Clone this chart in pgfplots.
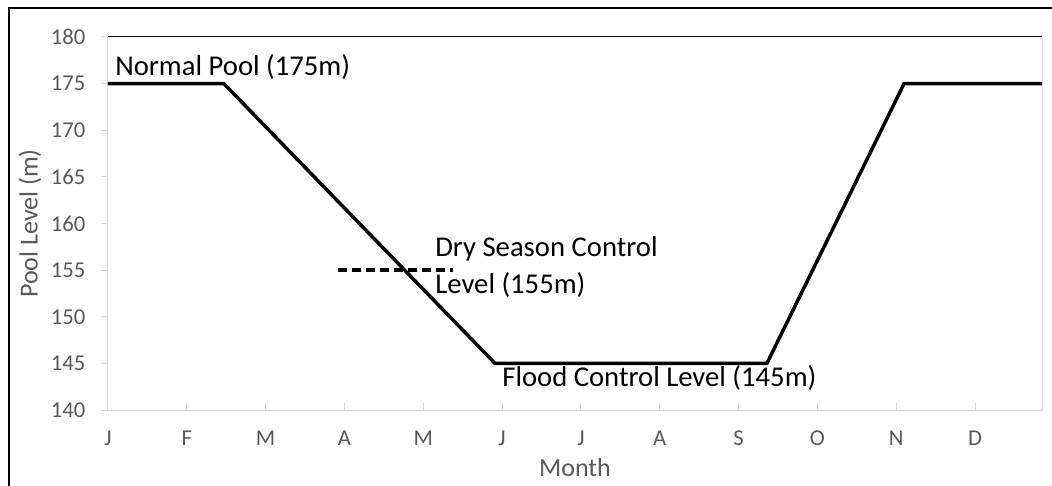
\documentclass[border=0pt]{standalone}
\usepackage{fontspec}
\setmainfont{Carlito}
\usepackage{pgfplots}
\pgfplotsset{compat=1.18}
\definecolor{tickgray}{HTML}{595959}
\definecolor{axgray}{HTML}{D9D9D9}
\begin{document}
\begin{tikzpicture}[x=1pt,y=1pt]
\useasboundingbox (-81,-56.25) rectangle (708,307.5);
\draw[line width=1.5pt] (-74.25,-60) -- (-74.25,301.5) -- (712,301.5);
\begin{axis}[
  at={(0,0)}, anchor=south west,
  scale only axis, width=700.5pt, height=279.75pt,
  xmin=0, xmax=11.85, ymin=140, ymax=180,
  xtick={0,1,...,11}, xticklabels={J,F,M,A,M,J,J,A,S,O,N,D},
  ytick={140,145,...,180},
  axis x line*=bottom, axis y line*=left,
  axis line style={axgray, line width=0.75pt, -},
  xtick align=inside, ytick align=outside,
  major tick length=5.5pt,
  tick style={axgray, line width=0.75pt},
  /pgf/number format/assume math mode=true,
  ticklabel style={text=tickgray, font=\fontsize{17}{20}\selectfont},
  xticklabel style={yshift=-12pt},
  yticklabel style={xshift=-8pt},
  xlabel={Month}, ylabel={Pool Level (m)},
  xlabel style={at={(axis description cs:0.5,-0.155)}, anchor=center, text=tickgray, font=\fontsize{19.5}{23}\selectfont},
  ylabel style={at={(axis description cs:-0.0835,0.5)}, anchor=center, text=tickgray, font=\fontsize{19.5}{23}\selectfont},
]
\draw[black, line width=0.75pt] (rel axis cs:0,1) -- (rel axis cs:1,1) -- (rel axis cs:1,0);
\addplot[black, line width=2.6pt] coordinates {(0,175) (1.47,175) (4.91,145) (8.36,145) (10.1,175) (11.85,175)};
\addplot[black, line width=2.6pt, dash pattern=on 7pt off 3.5pt] coordinates {(2.92,155) (4.38,155)};
\node[anchor=base west, inner sep=0, font=\fontsize{21.5}{26}\selectfont] at (axis cs:0.09,175.9) {Normal Pool (175m)};
\node[anchor=base west, inner sep=0, font=\fontsize{21.5}{26}\selectfont] at (axis cs:4.15,156.44) {Dry Season Control};
\node[anchor=base west, inner sep=0, font=\fontsize{21.5}{26}\selectfont] at (axis cs:4.15,152.44) {Level (155m)};
\node[anchor=base west, inner sep=0, font=\fontsize{21.5}{26}\selectfont] at (axis cs:5.0,142.5) {Flood Control Level (145m)};
\end{axis}
\end{tikzpicture}
\end{document}
